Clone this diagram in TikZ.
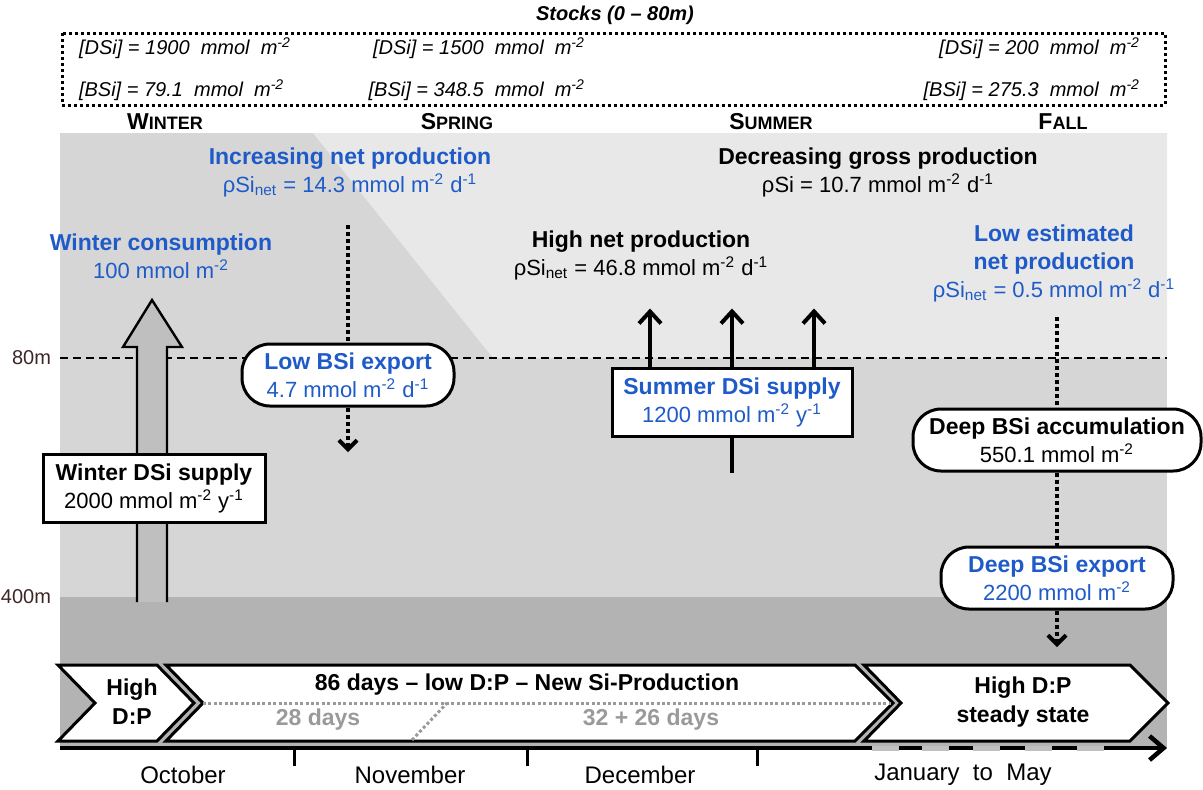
\documentclass[tikz,border=0pt]{standalone}
\usepackage{fontspec}
\setmainfont{Liberation Sans}
\usetikzlibrary{arrows.meta}
\definecolor{siblue}{HTML}{1F5BC8}
\definecolor{panellight}{HTML}{E8E8E8}
\definecolor{panelmid}{HTML}{D6D6D6}
\definecolor{paneldark}{HTML}{B3B3B3}
\definecolor{shaftgray}{HTML}{BFBFBF}
\definecolor{daygray}{HTML}{9A9A9A}
\definecolor{depthred}{HTML}{3D2626}
\newcommand{\persq}{m\textsuperscript{-2}}
\newcommand{\perday}{d\textsuperscript{-1}}
\newcommand{\peryr}{y\textsuperscript{-1}}
\newcommand{\rhonet}{ρSi\textsubscript{net}}
\newcommand{\boxhead}[1]{{\bfseries\fontsize{11.5}{14}\selectfont #1}}
\newcommand{\seasonname}[2]{{\fontsize{11.5}{14}\selectfont #1}{\fontsize{9}{11}\selectfont #2}}

\begin{document}
\begin{tikzpicture}[x=0.5pt, y=-0.5pt,
    lab/.style={font=\fontsize{11}{14}\selectfont, align=center},
    bluelab/.style={lab, text=siblue},
    stocklab/.style={font=\itshape\fontsize{10}{12}\selectfont},
    sqbox/.style={lab, draw, line width=1.5pt, fill=white, minimum height=34pt},
    rbox/.style={lab, draw, line width=1.5pt, fill=white, rounded corners=14pt, minimum height=31pt},
    dotline/.style={line width=2pt, dash pattern=on 2pt off 1.5pt},
    dotarrow/.style={dotline, -{Straight Barb[length=4.5pt,width=9pt]}},
    uparrow/.style={line width=2pt, -{Straight Barb[length=6pt,width=11pt]}},
    chevron/.style={draw, line width=1.5pt, fill=white},
    chevlab/.style={font=\bfseries\fontsize{11.5}{14.5}\selectfont, align=center},
    graydots/.style={daygray, line width=1.5pt, dash pattern=on 1.5pt off 1.2pt},
    daylab/.style={font=\bfseries\fontsize{11.5}{14}\selectfont, text=daygray},
    monthlab/.style={font=\fontsize{12}{14}\selectfont},
    depthlab/.style={left, text=depthred, font=\fontsize{10}{12}\selectfont}]
  \useasboundingbox (0,0) rectangle (1203,789);
  \fill[panelmid] (60,133) rectangle (1167,748);
  \fill[panellight] (313,133) -- (1167,133) -- (1167,358) -- (493,358) -- cycle;
  \fill[paneldark] (60,597) rectangle (1167,748);
  \draw[line width=0.6pt, dash pattern=on 4pt off 2.5pt] (60,358) -- (1167,358);
  \node[depthlab] (d80) at (58,358) {80m};
  \node[depthlab] (d400) at (58,597) {400m};

  \node[font=\bfseries\itshape\fontsize{10}{12}\selectfont] (stocktitle) at (615,15) {Stocks (0 – 80m)};
  \draw[line width=1.5pt, dash pattern=on 1.5pt off 1.5pt] (62,33) rectangle (1165,105);
  \node[stocklab, right] (dsiwin) at (72,48) {[DSi] = 1900 \ mmol \ \persq};
  \node[stocklab, right] (bsiwin) at (72,90) {[BSi] = 79.1 \ mmol \ \persq};
  \node[stocklab, left] (dsispr) at (592,48) {[DSi] = 1500 \ mmol \ \persq};
  \node[stocklab, left] (bsispr) at (592,90) {[BSi] = 348.5 \ mmol \ \persq};
  \node[stocklab, left] (dsifall) at (1147,48) {[DSi] = 200 \ mmol \ \persq};
  \node[stocklab, left] (bsifall) at (1147,90) {[BSi] = 275.3 \ mmol \ \persq};

  \node[font=\bfseries] (winter) at (165,122) {\seasonname{W}{INTER}};
  \node[font=\bfseries] (spring) at (457,122) {\seasonname{S}{PRING}};
  \node[font=\bfseries] (summer) at (771,122) {\seasonname{S}{UMMER}};
  \node[font=\bfseries] (fall) at (1063,122) {\seasonname{F}{ALL}};

  \draw[fill=shaftgray, line width=1.2pt] (137,602) -- (137,347) -- (123,347) -- (152,300) -- (182,347) -- (167,347) -- (167,602);

  \node[bluelab] (wincons) at (161,256) {\boxhead{Winter consumption}\\100 mmol \persq};
  \node[bluelab] (incprod) at (350,172) {\boxhead{Increasing net production}\\\rhonet{} = 14.3 mmol \persq{} \perday};
  \node[lab] (decgross) at (878,172) {\boxhead{Decreasing gross production}\\ρSi = 10.7 mmol \persq{} \perday};
  \node[lab] (highnet) at (641,255) {\boxhead{High net production}\\\rhonet{} = 46.8 mmol \persq{} \perday};
  \node[bluelab] (lowest) at (1054,263) {\boxhead{Low estimated}\\\boxhead{net production}\\\rhonet{} = 0.5 mmol \persq{} \perday};

  \node[sqbox, minimum width=111pt] (winsup) at (154,488) {\boxhead{Winter DSi supply}\\2000 mmol \persq{} \peryr};
  \node[rbox, text=siblue, minimum width=106pt] (lowexp) at (348,375) {\boxhead{Low BSi export}\\4.7 mmol \persq{} \perday};
  \node[sqbox, text=siblue, minimum width=120pt] (sumsup) at (732,402) {\boxhead{Summer DSi supply}\\1200 mmol \persq{} \peryr};
  \node[rbox, minimum width=144pt] (accum) at (1057,440) {\boxhead{Deep BSi accumulation}\\550.1 mmol \persq};
  \node[rbox, text=siblue, minimum width=116pt] (deepexp) at (1057,578) {\boxhead{Deep BSi export}\\2200 mmol \persq};

  \coordinate (exptop) at (348,225);
  \coordinate (expend) at (348,452);
  \draw[dotline] (exptop) -- (lowexp);
  \draw[dotarrow] (lowexp) -- (expend);
  \foreach \dx in {-82,0,82}
    \draw[uparrow] (sumsup.north) ++(\dx,0) -- ++(0,-58);
  \draw[line width=2pt] (sumsup.south) -- ++(0,35);
  \coordinate (lowtop) at (1057,317);
  \coordinate (deepend) at (1057,647);
  \draw[dotline] (lowtop) -- (accum);
  \draw[dotline] (accum) -- (deepexp);
  \draw[dotarrow] (deepexp) -- (deepend);

  \draw[chevron] (58,665) -- (157,665) -- (194,703) -- (157,741) -- (58,741) -- (95,703) -- cycle;
  \draw[chevron] (166,665) -- (855,665) -- (893,703) -- (855,741) -- (166,741) -- (203,703) -- cycle;
  \draw[chevron] (864,665) -- (1130,665) -- (1168,703) -- (1130,741) -- (864,741) -- (901,703) -- cycle;
  \node[chevlab] (highdp) at (132,702) {High\\D:P};
  \node[chevlab] (newprod) at (527,685) {86 days – low D:P – New Si-Production};
  \draw[graydots] (203,703) -- (891,703);
  \draw[graydots] (412,740) -- (447,703);
  \node[daylab] (days28) at (318,720) {28 days};
  \node[daylab] (days58) at (651,720) {32 + 26 days};
  \node[chevlab] (steady) at (1023,702) {High D:P\\steady state};

  \draw[line width=2.25pt, -{Straight Barb[length=7pt,width=12pt]}] (60,748) -- (1167,748);
  \foreach \x in {872,922,973,1025,1077}
    \draw[line width=2.5pt, shaftgray] (\x,748) -- ++(27,0);
  \foreach \x in {294,527,757}
    \draw[line width=1.5pt] (\x,748) -- (\x,766);
  \node[monthlab] (oct) at (183,775) {October};
  \node[monthlab] (nov) at (410,775) {November};
  \node[monthlab] (dec) at (640,775) {December};
  \node[monthlab] (jan) at (963,775) {January \ to \ May};
\end{tikzpicture}
\end{document}
